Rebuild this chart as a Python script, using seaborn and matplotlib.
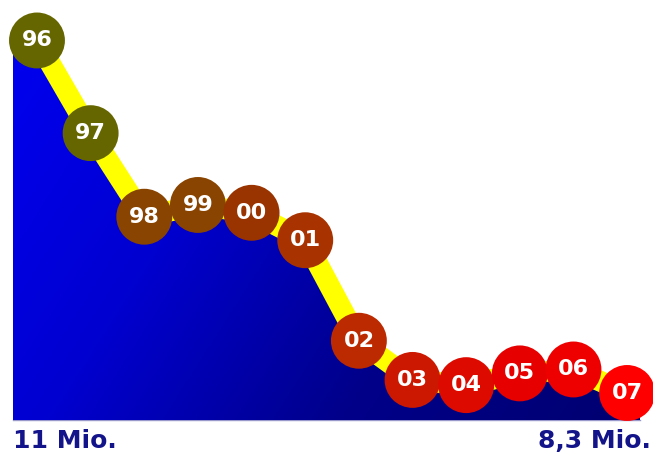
import numpy as np
import pandas as pd
import matplotlib
matplotlib.use("Agg")
import matplotlib.pyplot as plt
from matplotlib.colors import LinearSegmentedColormap
import seaborn as sns

# values (Mio.)
years = ["96", "97", "98", "99", "00", "01", "02", "03", "04", "05", "06", "07"]
population = [11.0, 10.29, 9.65, 9.74, 9.68, 9.47, 8.70, 8.40, 8.36, 8.45, 8.48, 8.3]
dot_colors = ["#666600", "#666600", "#884400", "#884400", "#993300", "#a83300",
              "#bb2a00", "#cc1800", "#dd0a00", "#e60000", "#ee0000", "#ff0000"]

data = pd.DataFrame({"pos": np.arange(len(years)), "year": years, "value": population})

sns.set_style("white")
plt.rcParams["font.family"] = ["DejaVu Sans"]

fig = plt.figure(figsize=(6.53, 4.54), dpi=100)
ax = fig.add_axes([13 / 653, 34 / 454, 627 / 653, 420 / 454])
xmin, xmax = -0.447, 11.24
ax.set_xlim(xmin, xmax)
ax.set_ylim(8.093, 11.31)

# area below the line, extended flat to the edges
fx = [xmin] + list(data["pos"]) + [xmax]
fy = [population[0]] + population + [population[-1]]
poly = ax.fill_between(fx, fy, 8.093, facecolor="none", edgecolor="none")

gx, gy = np.meshgrid(np.linspace(0, 1, 300), np.linspace(0, 1, 300))
grad = 0.7 * gx + 0.3 * gy
cmap = LinearSegmentedColormap.from_list("blu", ["#0000f2", "#0000d0", "#00008a", "#000070"])
im = ax.imshow(grad, cmap=cmap, extent=[xmin, xmax, 8.093, 11.31], origin="upper",
               aspect="auto", zorder=1)
im.set_clip_path(poly.get_paths()[0], transform=ax.transData)

sns.lineplot(data=data, x="pos", y="value", color="#ffff00", linewidth=15,
             solid_capstyle="butt", ax=ax, zorder=2)
sns.scatterplot(data=data, x="pos", y="value", hue="year", palette=dot_colors,
                s=1620, linewidth=0, legend=False, ax=ax, zorder=3, clip_on=False)
for _, r in data.iterrows():
    ax.text(r["pos"], r["value"], r["year"], color="white", fontsize=16,
            fontweight="bold", ha="center", va="center", zorder=4, clip_on=False)

ax.set_xlabel("")
ax.set_ylabel("")
ax.set_xticks([])
ax.set_yticks([])
for s in ["top", "right", "left"]:
    ax.spines[s].set_visible(False)
ax.spines["bottom"].set_color("#9999cc")
ax.spines["bottom"].set_linewidth(1)
ax.spines["bottom"].set_zorder(0)

fmt = lambda v: ("%g" % v).replace(".", ",") + " Mio."
fig.text(13 / 653, 13 / 454, fmt(population[0]), color="#14148a", fontsize=18,
         fontweight="bold", ha="left", va="center")
fig.text(651 / 653, 13 / 454, fmt(population[-1]), color="#14148a", fontsize=18,
         fontweight="bold", ha="right", va="center")

fig.savefig("out.png", dpi=100)
